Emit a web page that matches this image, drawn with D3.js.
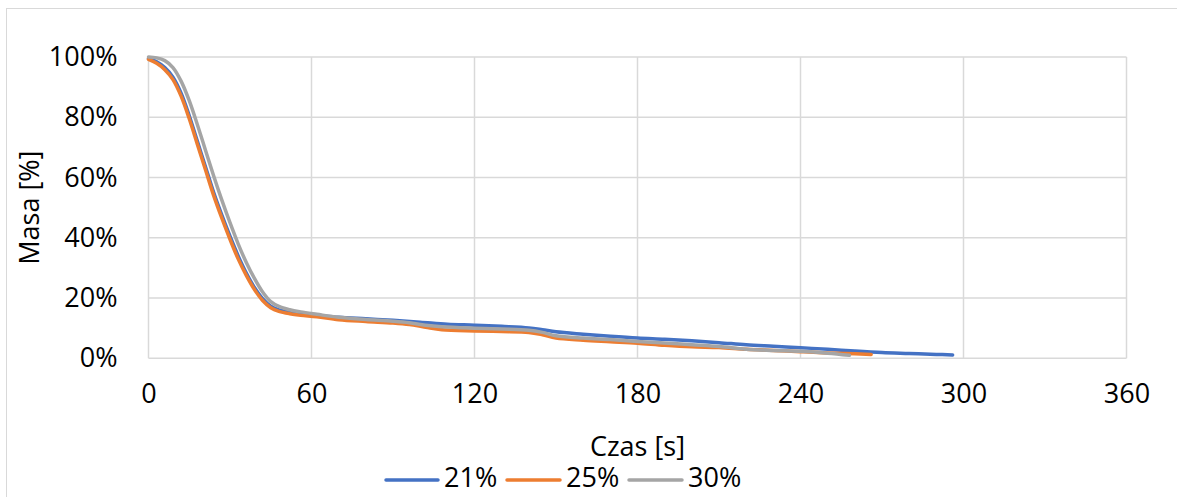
<!DOCTYPE html>
<html>
<head>
<meta charset="utf-8">
<script src="https://cdn.jsdelivr.net/npm/d3@7"></script>
<style>
  html, body { margin: 0; padding: 0; background: #fff; }
  svg { display: block; }
  text { font-family: "Open Sans", "Liberation Sans", sans-serif; fill: #000; }
</style>
</head>
<body>
<svg id="chart" width="1177" height="497"></svg>
<script>
// Time axis [s]
const xTicks = [0, 60, 120, 180, 240, 300, 360];
// Mass axis (fraction)
const yTicks = [0, 0.2, 0.4, 0.6, 0.8, 1.0];

const seriesNames = ["21%", "25%", "30%"];
const seriesColors = ["#4472C4", "#ED7D31", "#A5A5A5"];

// 21% series: time [s] and mass [%]
const t21 = [0, 3, 6, 9, 12, 15, 18, 21, 24, 27, 30, 33, 36, 39, 42, 45, 48, 52, 56, 62, 70, 80, 90, 100, 110, 120, 130, 140, 145, 150, 160, 170, 180, 190, 200, 210, 220, 230, 240, 250, 260, 270, 280, 290, 296];
const m21 = [99.5, 98.4, 96.5, 93.3, 88, 80.5, 72, 63.5, 55, 47.5, 40.5, 34, 28.3, 23.5, 19.8, 17.3, 16.1, 15.3, 14.8, 14.3, 13.6, 13.1, 12.6, 12.0, 11.3, 11.0, 10.6, 10.1, 9.5, 8.8, 8.0, 7.3, 6.7, 6.3, 5.8, 5.2, 4.5, 4.0, 3.5, 3.0, 2.4, 1.9, 1.6, 1.3, 1.1];

// 25% series
const t25 = [0, 3, 6, 9, 12, 15, 18, 21, 24, 27, 30, 33, 36, 39, 42, 45, 48, 52, 56, 62, 70, 80, 90, 96, 102, 108, 120, 130, 140, 145, 150, 160, 170, 180, 190, 200, 210, 220, 230, 240, 250, 260, 266];
const m25 = [99.2, 97.9, 95.8, 92.5, 87, 79.5, 71, 62.5, 54, 46.5, 39.5, 33, 27.5, 22.8, 19.2, 16.8, 15.6, 14.8, 14.3, 13.8, 12.8, 12.2, 11.7, 11.2, 10.3, 9.5, 9.1, 8.9, 8.6, 7.8, 6.7, 6.0, 5.5, 5.0, 4.3, 3.8, 3.6, 3.0, 2.6, 2.2, 1.8, 1.5, 1.3];

// 30% series
const t30 = [0, 3, 6, 9, 12, 15, 18, 21, 24, 27, 30, 33, 36, 39, 42, 45, 48, 52, 56, 62, 70, 80, 90, 96, 102, 108, 120, 130, 140, 145, 150, 160, 170, 180, 190, 200, 210, 220, 230, 240, 250, 258];
const m30 = [100, 99.7, 98.8, 96.5, 92, 85.5, 77.5, 69, 60.5, 52.5, 45, 38, 31.8, 26.5, 22, 18.8, 17.2, 16.1, 15.4, 14.6, 13.6, 12.9, 12.3, 11.8, 11.0, 10.5, 10.0, 9.7, 9.3, 8.6, 7.5, 6.7, 6.2, 5.6, 5.1, 4.5, 3.9, 3.0, 2.6, 2.3, 1.7, 1.0];

const series = [
  { name: seriesNames[0], color: seriesColors[0], pts: t21.map((t, i) => [t, m21[i] / 100]) },
  { name: seriesNames[1], color: seriesColors[1], pts: t25.map((t, i) => [t, m25[i] / 100]) },
  { name: seriesNames[2], color: seriesColors[2], pts: t30.map((t, i) => [t, m30[i] / 100]) }
];

const svg = d3.select("#chart");

// Outer chart frame
svg.append("rect")
  .attr("x", 6.5).attr("y", 8.5)
  .attr("width", 1180).attr("height", 500)
  .attr("fill", "#fff").attr("stroke", "#d9d9d9").attr("stroke-width", 1);

const plot = { left: 148.5, right: 1126.5, top: 57, bottom: 358.3 };

const x = d3.scaleLinear().domain([0, 360]).range([plot.left, plot.right]);
const y = d3.scaleLinear().domain([0, 1]).range([plot.bottom, plot.top]);

// Gridlines
const grid = svg.append("g").attr("class", "grid");
grid.selectAll("line.h").data(yTicks).join("line")
  .attr("class", "h")
  .attr("x1", plot.left).attr("x2", plot.right)
  .attr("y1", d => y(d)).attr("y2", d => y(d))
  .attr("stroke", "#d9d9d9").attr("stroke-width", 1.5);
grid.selectAll("line.v").data(xTicks).join("line")
  .attr("class", "v")
  .attr("x1", d => x(d)).attr("x2", d => x(d))
  .attr("y1", plot.top).attr("y2", plot.bottom)
  .attr("stroke", "#d9d9d9").attr("stroke-width", 1.5);

// Axes (labels only; the lines come from the grid)
const xAxis = svg.append("g")
  .attr("transform", `translate(0,${plot.bottom})`)
  .call(d3.axisBottom(x).tickValues(xTicks).tickSize(0).tickPadding(26).tickFormat(d3.format("d")));
const yAxis = svg.append("g")
  .attr("transform", `translate(${plot.left},0)`)
  .call(d3.axisLeft(y).tickValues(yTicks).tickSize(0).tickPadding(31).tickFormat(d3.format(".0%")));
[xAxis, yAxis].forEach(a => {
  a.select(".domain").remove();
  a.selectAll("text")
    .style("font-family", "'Open Sans', 'Liberation Sans', sans-serif")
    .style("font-size", "27px")
    .attr("fill", "#000");
});

// Series lines
const line = d3.line()
  .x(d => x(d[0]))
  .y(d => y(d[1]))
  .curve(d3.curveCatmullRom.alpha(0.5));

svg.append("g").selectAll("path").data(series).join("path")
  .attr("d", d => line(d.pts))
  .attr("fill", "none")
  .attr("stroke", d => d.color)
  .attr("stroke-width", 3.5)
  .attr("stroke-linecap", "round")
  .attr("stroke-linejoin", "round");

// Axis titles
svg.append("text")
  .attr("x", (plot.left + plot.right) / 2)
  .attr("y", 449)
  .attr("text-anchor", "middle")
  .attr("dominant-baseline", "middle")
  .style("font-size", "27px")
  .text("Czas [s]");

svg.append("text")
  .attr("transform", `translate(32,${(plot.top + plot.bottom) / 2}) rotate(-90)`)
  .attr("text-anchor", "middle")
  .attr("dominant-baseline", "middle")
  .style("font-size", "27px")
  .text("Masa [%]");

// Legend
const legendY = 480;
const legendItems = [
  { x0: 386, x1: 438, tx: 444 },
  { x0: 507, x1: 560, tx: 566 },
  { x0: 629, x1: 682, tx: 688 }
];
const legend = svg.append("g");
series.forEach((s, i) => {
  const it = legendItems[i];
  legend.append("line")
    .attr("x1", it.x0).attr("x2", it.x1)
    .attr("y1", legendY).attr("y2", legendY)
    .attr("stroke", s.color).attr("stroke-width", 3.5)
    .attr("stroke-linecap", "round");
  legend.append("text")
    .attr("x", it.tx).attr("y", legendY)
    .attr("dominant-baseline", "middle")
    .style("font-size", "27px")
    .text(s.name);
});
</script>
</body>
</html>
